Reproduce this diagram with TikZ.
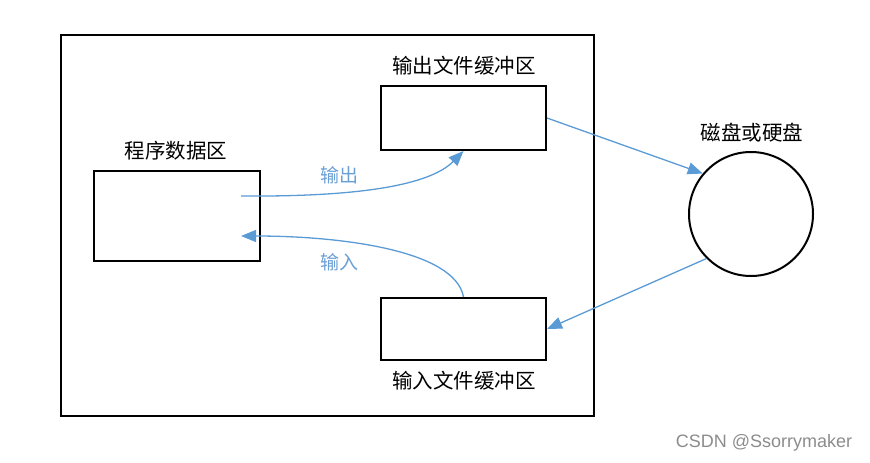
\documentclass[tikz,border=0pt]{standalone}
\usepackage{fontspec}
\setmainfont{Liberation Sans}
\newfontfamily\cjk{Noto Sans CJK SC}
\usetikzlibrary{arrows.meta}
\definecolor{arrowblue}{HTML}{5B9BD5}
\definecolor{labelblue}{HTML}{6A9FD6}
\tikzset{
  box/.style={draw=black, line width=2pt, rectangle, inner sep=0pt},
  title/.style={font=\cjk\fontsize{20.5}{23}\selectfont, text=black, inner sep=0pt},
  flow/.style={draw=arrowblue, line width=1.3pt, -{Triangle[length=15pt,width=12pt]}},
  flowlabel/.style={font=\cjk\fontsize{19}{21}\selectfont, text=labelblue, inner sep=0pt},
}
\begin{document}
\begin{tikzpicture}[x=1pt,y=-1pt]
\useasboundingbox (0,0) rectangle (870,463);
\node[box, minimum width=533pt, minimum height=381pt] (outer) at (327.5,225.5) {};
\node[box, minimum width=166pt, minimum height=90pt] (prog) at (177,216) {};
\node[box, minimum width=165pt, minimum height=64pt] (outbuf) at (463.5,118) {};
\node[box, minimum width=165pt, minimum height=62pt] (inbuf) at (463.5,329) {};
\node[draw=black, line width=2pt, circle, minimum size=124pt, inner sep=0pt] (disk) at (751,214) {};

\node[title] (progl) at (176,151) {程序数据区};
\node[title] (outl) at (464,66) {输出文件缓冲区};
\node[title] (inl) at (464,381) {输入文件缓冲区};
\node[title] (diskl) at (752,133) {磁盘或硬盘};

\coordinate (outstart) at (241,196);
\coordinate (inend) at (241,236);

\draw[flow] (outstart) .. controls (360,197) and (430,185) .. (outbuf.south);
\draw[flow] (inbuf.north) .. controls (455,250) and (340,236) .. (inend);
\draw[flow] (outbuf.east) -- (disk.140);
\draw[flow] (disk.225) -- (inbuf.east);

\node[flowlabel] (outlab) at (339,175) {输出};
\node[flowlabel] (inlab) at (339,262) {输入};

\node[font=\fontsize{18}{20}\selectfont, text=black!45, inner sep=0pt] (wm) at (764,443) {CSDN @Ssorrymaker};
\end{tikzpicture}
\end{document}
